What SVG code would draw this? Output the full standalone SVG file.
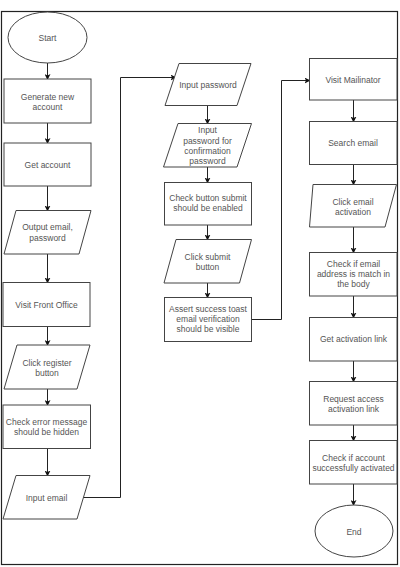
<svg xmlns="http://www.w3.org/2000/svg" width="400" height="567" viewBox="0 0 400 567">
<defs>
<marker id="ah" markerWidth="6" markerHeight="6" refX="5" refY="3" orient="auto" markerUnits="userSpaceOnUse">
<path d="M0,0 L6,3 L0,6 L1.5,3 Z" fill="#111"/>
</marker>
<style>
.s{fill:#fff;stroke:#444;stroke-width:1}
.t{font-family:"Liberation Sans",Arial,sans-serif;font-size:8.5px;fill:#555;text-anchor:middle}
.c{fill:none;stroke:#222;stroke-width:1;marker-end:url(#ah)}
</style>
</defs>
<rect x="0" y="0" width="400" height="567" fill="#fff"/>
<rect x="1.5" y="11.5" width="396" height="553" fill="none" stroke="#222" stroke-width="1.2"/>

<g id="connectors">
<path class="c" d="M47.5,63 V79"/>
<path class="c" d="M47.5,123 V143"/>
<path class="c" d="M47.5,186 V210.5"/>
<path class="c" d="M47.5,254 V282.5"/>
<path class="c" d="M47.5,326.5 V345"/>
<path class="c" d="M47.5,389 V405"/>
<path class="c" d="M47.5,448.5 V475.5"/>
<path class="c" d="M83,497.5 H120.5 V77.5 H175.5"/>
<path class="c" d="M207.5,105.5 V123.5"/>
<path class="c" d="M207.5,167 V182.5"/>
<path class="c" d="M207.5,225 V239.5"/>
<path class="c" d="M207.5,283 V297.5"/>
<path class="c" d="M251.5,319.5 H281.5 V80.5 H309.5"/>
<path class="c" d="M353.5,100 V121.5"/>
<path class="c" d="M353.5,164.5 V184.5"/>
<path class="c" d="M353.5,227 V252.5"/>
<path class="c" d="M353.5,296 V317.5"/>
<path class="c" d="M353.5,361 V381.5"/>
<path class="c" d="M353.5,425 V440.5"/>
<path class="c" d="M353.5,484 V505"/>
</g>

<g id="start"><ellipse class="s" cx="47.5" cy="37.5" rx="39.5" ry="25.5"/><text class="t" x="47.5" y="40.5">Start</text></g>
<g id="generate"><rect class="s" x="4" y="79" width="87" height="44"/><text class="t" x="47.5" y="99.7">Generate new</text><text class="t" x="47.5" y="110.3">account</text></g>
<g id="getaccount"><rect class="s" x="4" y="143" width="87" height="43"/><text class="t" x="47.5" y="168">Get account</text></g>
<g id="output"><polygon class="s" points="16,210.5 91,210.5 79,254 4,254"/><text class="t" x="47.5" y="230.3">Output email,</text><text class="t" x="47.5" y="240.7">password</text></g>
<g id="visitfront"><rect class="s" x="3" y="282.5" width="87" height="44"/><text class="t" x="46.5" y="308">Visit Front Office</text></g>
<g id="clickregister"><polygon class="s" points="17,345 90,345 77,389 4,389"/><text class="t" x="47" y="365.7">Click register</text><text class="t" x="47" y="375.7">button</text></g>
<g id="checkerror"><rect class="s" x="3" y="405" width="87.5" height="43.5"/><text class="t" x="46.5" y="425.3">Check error message</text><text class="t" x="46.5" y="435.3">should be hidden</text></g>
<g id="inputemail"><polygon class="s" points="16,475.5 90,475.5 77,519 3,519"/><text class="t" x="46.5" y="500.7">Input email</text></g>

<g id="inputpassword"><polygon class="s" points="179,63.5 251,63.5 237,105.5 165,105.5"/><text class="t" x="208" y="88">Input password</text></g>
<g id="confirmpassword"><polygon class="s" points="178,123.5 251.5,123.5 237,167 163.5,167"/><text class="t" x="207.5" y="133">Input</text><text class="t" x="207.5" y="143.5">password for</text><text class="t" x="207.5" y="153.7">confirmation</text><text class="t" x="207.5" y="164">password</text></g>
<g id="checkbutton"><rect class="s" x="164.5" y="182.5" width="87" height="42.5"/><text class="t" x="208" y="201">Check button submit</text><text class="t" x="208" y="211.3">should be enabled</text></g>
<g id="clicksubmit"><polygon class="s" points="176,239.5 251.5,239.5 239.5,283 164,283"/><text class="t" x="207.5" y="259.7">Click submit</text><text class="t" x="207.5" y="269.7">button</text></g>
<g id="assert"><rect class="s" x="164.5" y="297.5" width="87" height="44"/><text class="t" x="208" y="312.3">Assert success toast</text><text class="t" x="208" y="322.3">email verification</text><text class="t" x="208" y="332.3">should be visible</text></g>

<g id="mailinator"><rect class="s" x="309.5" y="58.5" width="87.5" height="41.5"/><text class="t" x="353" y="83">Visit Mailinator</text></g>
<g id="searchemail"><rect class="s" x="309.5" y="121.5" width="87.5" height="43"/><text class="t" x="353" y="146.3">Search email</text></g>
<g id="clickactivation"><polygon class="s" points="313,184.5 396.5,184.5 385,227 309.5,227"/><text class="t" x="353" y="204.7">Click email</text><text class="t" x="353" y="215.3">activation</text></g>
<g id="checkaddress"><rect class="s" x="309.5" y="252.5" width="87.5" height="43.5"/><text class="t" x="353.5" y="266.7">Check if email</text><text class="t" x="353.5" y="277">address is match in</text><text class="t" x="353.5" y="287">the body</text></g>
<g id="getlink"><rect class="s" x="309.5" y="317.5" width="87.5" height="43.5"/><text class="t" x="353.5" y="342">Get activation link</text></g>
<g id="requestaccess"><rect class="s" x="309.5" y="381.5" width="87.5" height="43.5"/><text class="t" x="353.5" y="402">Request access</text><text class="t" x="353.5" y="412.3">activation link</text></g>
<g id="checkaccount"><rect class="s" x="309.5" y="440.5" width="87.5" height="43.5"/><text class="t" x="353.5" y="461.3">Check if account</text><text class="t" x="353.5" y="471.3">successfully activated</text></g>
<g id="end"><ellipse class="s" cx="354" cy="531" rx="39" ry="26"/><text class="t" x="354" y="535">End</text></g>
</svg>
